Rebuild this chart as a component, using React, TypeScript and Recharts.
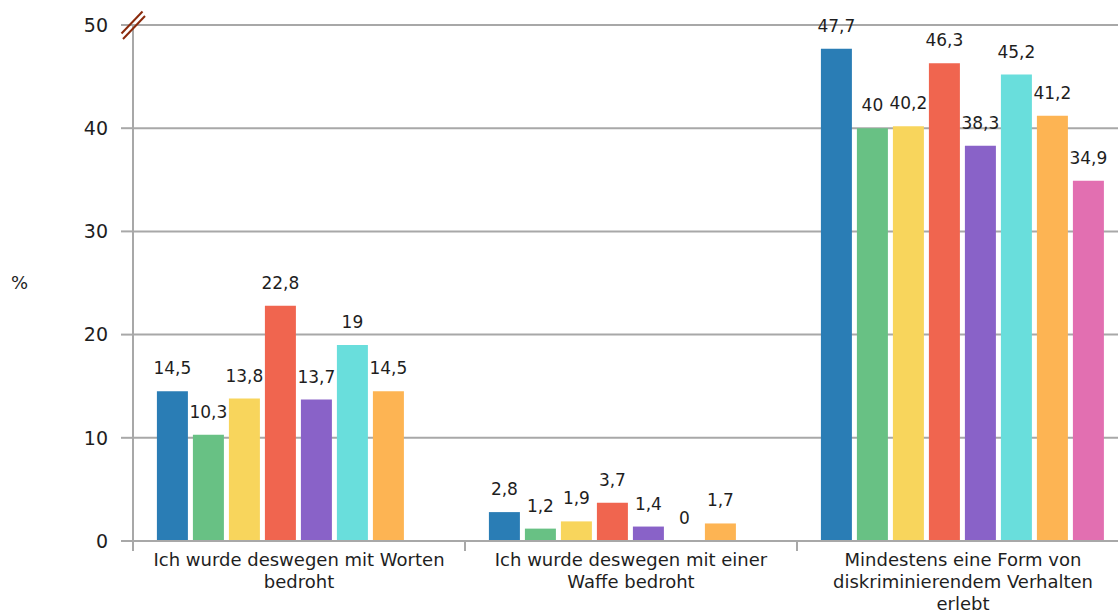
import React from 'react';
import { BarChart, Bar, XAxis, YAxis, CartesianGrid, LabelList } from 'recharts';

const categories = [
  'Ich wurde deswegen mit Worten bedroht',
  'Ich wurde deswegen mit einer Waffe bedroht',
  'Mindestens eine Form von diskriminierendem Verhalten erlebt',
];

// tick labels, broken into lines as in the original
const categoryLines = [
  ['Ich wurde deswegen mit Worten', 'bedroht'],
  ['Ich wurde deswegen mit einer', 'Waffe bedroht'],
  ['Mindestens eine Form von', 'diskriminierendem Verhalten', 'erlebt'],
];

const seriesNames = ['Gruppe 1', 'Gruppe 2', 'Gruppe 3', 'Gruppe 4', 'Gruppe 5', 'Gruppe 6', 'Gruppe 7', 'Gruppe 8'];
const seriesColors = ['#2a7db5', '#68c184', '#f8d55c', '#f0654f', '#8962c8', '#69dedc', '#fdb453', '#e26fb1'];

const gruppe1 = [14.5, 2.8, 47.7];
const gruppe2 = [10.3, 1.2, 40];
const gruppe3 = [13.8, 1.9, 40.2];
const gruppe4 = [22.8, 3.7, 46.3];
const gruppe5 = [13.7, 1.4, 38.3];
const gruppe6 = [19, 0, 45.2];
const gruppe7 = [14.5, 1.7, 41.2];
const gruppe8 = [null, null, 34.9];

const seriesValues = [gruppe1, gruppe2, gruppe3, gruppe4, gruppe5, gruppe6, gruppe7, gruppe8];

const yTicks = [0, 10, 20, 30, 40, 50];
const Y_MAX = 50;

const data = categories.map((name, i) => {
  const row: Record<string, any> = { name };
  seriesNames.forEach((s, j) => {
    row[s] = seriesValues[j][i];
  });
  return row;
});

const FONT = "'DejaVu Sans', sans-serif";
const TEXT = '#1e1e1e';
const AXIS = '#a8a8a8';
const BREAK = '#8a2a0c';
const Y_TICK_SIZE = 12;
const Y_TICK_MARGIN = 13;

const fmt = (v: any) => (v === null || v === undefined ? '' : String(v).replace('.', ','));

// a zero value keeps a hairline bar so that its "0" label is still drawn
const keepZero = (v: any) => (v === 0 ? 0.01 : 0);

const CategoryTick = (props: any) => {
  const { x, y, payload, index } = props;
  const half = payload.offset ?? 0;
  const lines: string[] = categoryLines[index] ?? [String(payload.value)];
  return (
    <g>
      <line x1={x - half} x2={x - half} y1={y - 12} y2={y - 2} stroke={AXIS} strokeWidth={2} />
      <text x={x} y={y} textAnchor="middle" fill={TEXT} fontSize={18} fontFamily={FONT}>
        {lines.map((l, i) => (
          <tspan key={i} x={x} dy={i === 0 ? '0.72em' : 22}>
            {l}
          </tspan>
        ))}
      </text>
    </g>
  );
};

const ValueTick = (props: any) => {
  const { x, y, payload } = props;
  const ax = x + Y_TICK_SIZE + Y_TICK_MARGIN;
  return (
    <g>
      <text x={x} y={y} dy="0.36em" textAnchor="end" fill={TEXT} fontSize={19} fontFamily={FONT}>
        {payload.value}
      </text>
      {payload.value === Y_MAX && (
        <g stroke={BREAK} strokeWidth={2}>
          <line x1={ax - 11.5} y1={y + 8.5} x2={ax + 9.5} y2={y - 13.5} />
          <line x1={ax - 10} y1={y + 14} x2={ax + 12} y2={y - 9} />
        </g>
      )}
    </g>
  );
};

export default function App() {
  return (
    <div
      style={{
        position: 'absolute',
        left: 0,
        top: 0,
        width: 1118,
        height: 615,
        overflow: 'hidden',
        background: '#fff',
        fontFamily: FONT,
      }}
    >
      <BarChart
        width={1130}
        height={615}
        data={data}
        margin={{ top: 25, right: 1, bottom: 0, left: 0 }}
        barCategoryGap="7.2%"
        barGap={5}
      >
        <CartesianGrid vertical={false} stroke={AXIS} strokeWidth={2} />
        <XAxis
          dataKey="name"
          height={74}
          interval={0}
          tickLine={false}
          tickSize={8}
          tickMargin={4}
          axisLine={{ stroke: AXIS, strokeWidth: 2 }}
          tick={<CategoryTick />}
        />
        <YAxis
          width={133}
          domain={[0, Y_MAX]}
          ticks={yTicks}
          interval={0}
          tickSize={Y_TICK_SIZE}
          tickMargin={Y_TICK_MARGIN}
          tickLine={{ stroke: AXIS, strokeWidth: 2 }}
          axisLine={{ stroke: AXIS, strokeWidth: 2 }}
          tick={<ValueTick />}
          label={{ value: '%', position: 'insideLeft', offset: 11, fill: TEXT, fontSize: 18, fontFamily: FONT }}
        />
        {seriesNames.map((s, i) => (
          <Bar key={s} dataKey={s} fill={seriesColors[i]} minPointSize={keepZero} isAnimationActive={false}>
            <LabelList
              dataKey={s}
              position="top"
              offset={17}
              formatter={fmt}
              fill={TEXT}
              fontSize={17}
              fontFamily={FONT}
            />
          </Bar>
        ))}
      </BarChart>
    </div>
  );
}
